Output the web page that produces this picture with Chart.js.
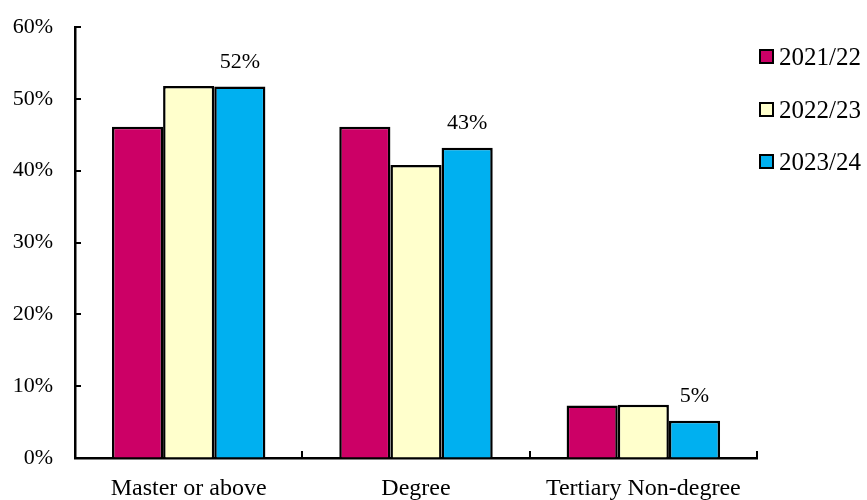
<!DOCTYPE html>
<html>
<head>
<meta charset="utf-8">
<script src="https://cdn.jsdelivr.net/npm/chart.js@4.4.0/dist/chart.umd.min.js"></script>
<style>
html,body{margin:0;padding:0;background:#fff;}
#wrap{width:867px;height:500px;position:relative;}
</style>
</head>
<body>
<div id="wrap"><canvas id="c" width="867" height="500"></canvas></div>
<script>
const categories = ["Master or above", "Degree", "Tertiary Non-degree"];
const seriesLabels = ["2021/22", "2022/23", "2023/24"];
const values2122 = [46.1, 46.1, 7.3];
const values2223 = [51.8, 40.8, 7.4];
const values2324 = [51.7, 43.2, 5.2];
const yTicks = [0, 10, 20, 30, 40, 50, 60];
const labelledSeries = 2;

const colors = ["#CC0066", "#FFFFCC", "#00B0F0"];
const FONT = "'Liberation Serif','Times New Roman',serif";

const inwardTicks = {
  id: 'inwardTicks',
  afterDraw(chart) {
    const ctx = chart.ctx;
    const x = chart.scales.x, y = chart.scales.y;
    const area = chart.chartArea;
    ctx.save();
    ctx.strokeStyle = '#000';
    ctx.lineWidth = 2;
    yTicks.forEach(v => {
      const py = Math.round(y.getPixelForValue(v));
      ctx.beginPath();
      ctx.moveTo(area.left, py);
      ctx.lineTo(area.left + 6, py);
      ctx.stroke();
    });
    const step = x.getPixelForValue(1) - x.getPixelForValue(0);
    for (let i = 0; i < categories.length; i++) {
      const px = x.getPixelForValue(i) + step / 2;
      ctx.beginPath();
      ctx.moveTo(Math.round(px), area.bottom);
      ctx.lineTo(Math.round(px), area.bottom - 7);
      ctx.stroke();
    }
    const meta = chart.getDatasetMeta(labelledSeries);
    ctx.fillStyle = '#000';
    ctx.font = "22px " + FONT;
    ctx.textAlign = 'center';
    ctx.textBaseline = 'middle';
    meta.data.forEach((bar, i) => {
      const v = chart.data.datasets[labelledSeries].data[i];
      ctx.fillText(Math.round(v) + '%', bar.x, bar.y - 24);
    });
    const ys = [57, 110, 162];
    ctx.font = "25px " + FONT;
    ctx.textAlign = 'left';
    chart.data.datasets.forEach((ds, i) => {
      ctx.fillStyle = ds.backgroundColor;
      ctx.fillRect(760, ys[i] - 7, 13, 13);
      ctx.strokeStyle = '#000';
      ctx.lineWidth = 2;
      ctx.strokeRect(760, ys[i] - 7, 13, 13);
      ctx.fillStyle = '#000';
      ctx.fillText(ds.label, 779, ys[i] + 1);
    });
    ctx.restore();
  }
};

new Chart(document.getElementById('c'), {
  type: 'bar',
  data: {
    labels: categories,
    datasets: [
      { label: seriesLabels[0], data: values2122, backgroundColor: colors[0], borderColor: '#000', borderWidth: 2.5, borderSkipped: 'bottom' },
      { label: seriesLabels[1], data: values2223, backgroundColor: colors[1], borderColor: '#000', borderWidth: 2.5, borderSkipped: 'bottom' },
      { label: seriesLabels[2], data: values2324, backgroundColor: colors[2], borderColor: '#000', borderWidth: 2.5, borderSkipped: 'bottom' }
    ]
  },
  options: {
    responsive: false,
    animation: false,
    devicePixelRatio: 1,
    layout: { padding: { top: 27, right: 110, left: 0, bottom: 0 } },
    plugins: { legend: { display: false }, tooltip: { enabled: false } },
    datasets: { bar: { categoryPercentage: 0.675, barPercentage: 1.0 } },
    scales: {
      x: {
        grid: { display: true, drawOnChartArea: false, drawTicks: false },
        border: { display: true, color: '#000', width: 2.5 },
        ticks: { color: '#000', font: { family: FONT, size: 24 }, padding: 16, maxRotation: 0 },
        afterFit(s) { s.height = 42; s.paddingLeft = 0; s.paddingRight = 0; }
      },
      y: {
        min: 0, max: 60,
        grid: { display: true, drawOnChartArea: false, drawTicks: false },
        border: { display: true, color: '#000', width: 2.5 },
        ticks: { stepSize: 10, color: '#000', font: { family: FONT, size: 22 }, padding: 22, callback: v => v + '%' },
        afterFit(s) { s.width = 75; s.paddingTop = 0; s.paddingBottom = 0; }
      }
    }
  },
  plugins: [inwardTicks]
});
</script>
</body>
</html>
